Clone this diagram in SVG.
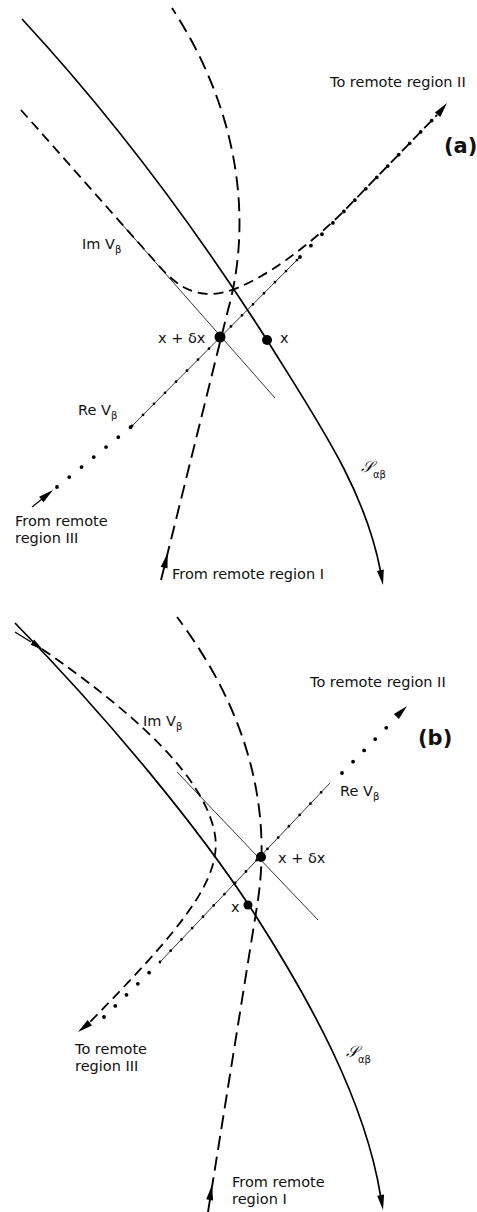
<svg xmlns="http://www.w3.org/2000/svg" width="477" height="1212" viewBox="0 0 477 1212">
<style>
.solid{fill:none;stroke:#000;stroke-width:1.7}
.thin{fill:none;stroke:#000;stroke-width:0.8}
.tail{fill:none;stroke:#000;stroke-width:1.3}
.ldash{fill:none;stroke:#000;stroke-width:1.9;stroke-dasharray:14 7}
.sdash{fill:none;stroke:#000;stroke-width:1.8;stroke-dasharray:10 6}
.bigdot{fill:none;stroke:#000;stroke-width:3.8;stroke-linecap:round;stroke-dasharray:0 15.8}
.smalldot{fill:none;stroke:#000;stroke-width:2.8;stroke-linecap:round;stroke-dasharray:0 15.6}
.ah{fill:#000;stroke:none}
.pt{fill:#000}
text{font-family:"DejaVu Sans","Liberation Sans",sans-serif;font-size:14.5px;fill:#111}
.sub{font-size:10px}
.panel{font-weight:bold;font-size:21px}
.script{font-family:"DejaVu Serif","DejaVu Sans","Liberation Serif",serif;font-style:italic;font-size:16px}
</style>
<rect width="477" height="1212" fill="#fff"/>

<g id="connectors">
  <!-- Panel (a) -->
  <path id="a-S" class="solid" d="M22,19 C120,125 200,235 267,340 C320,425 365,490 380.5,571"/>
  <path id="a-tangent" class="thin" d="M120,222 L275,398"/>
  <path id="a-Im" class="sdash" d="M21,110 L160,267 C180,290 200,298 225,292 C260,283 310,245 345,210 L437,115"/>
  <path id="a-region1" class="ldash" d="M161,580 L228,310 C250,230 245,120 172,8"/>
  <path id="a-Re-tail" class="tail" d="M32,507 L42,499"/>
  <path id="a-Re-low" class="bigdot" d="M57,487 L132,426"/>
  <path id="a-Re-mid" class="thin" d="M132,426 L300,257"/>
  <path id="a-Re-mid-dots" class="smalldot" d="M132,426 L300,257"/>
  <path id="a-Re-up" class="bigdot" d="M300,257 L437,115"/>
  <polygon class="ah" points="383,585 383.8,569.6 377,570.9"/>
  <polygon class="ah" points="167.7,553 167.5,568.4 160.7,566.8"/>
  <polygon class="ah" points="53,490 43.5,502.2 39.1,496.8"/>
  <polygon class="ah" points="447,103 440.3,116.9 434.9,112.5"/>

  <!-- Panel (b) -->
  <path id="b-S" class="solid" d="M15,623 C110,720 200,830 252,910 C310,1000 365,1100 380.6,1196"/>
  <path id="b-tangent" class="thin" d="M177,772 L318,920"/>
  <path id="b-Im-tail" class="tail" d="M15,632 L31,642"/>
  <path id="b-Im" class="sdash" d="M42,649 C130,710 205,775 215,835 C222,880 180,930 90,1022"/>
  <path id="b-region1" class="ldash" d="M208,1212 L258,900 C268,830 262,730 177,617"/>
  <path id="b-Re-low" class="bigdot" d="M104,1017 L160,962"/>
  <path id="b-Re-mid" class="thin" d="M160,962 L330,783"/>
  <path id="b-Re-mid-dots" class="smalldot" d="M160,962 L330,783"/>
  <path id="b-Re-up" class="bigdot" d="M342,773 L390,724"/>
  <polygon class="ah" points="383,1210 384.1,1194.6 377.2,1195.8"/>
  <polygon class="ah" points="212,1185 213.1,1200.4 206.2,1199.2"/>
  <polygon class="ah" points="78,1032 92,1025.4 87.6,1019.9"/>
  <polygon class="ah" points="407,706 398.9,719.1 393.9,714.1"/>
  <polygon class="ah" points="43,650 30.6,644.8 34.2,639.6"/>
</g>

<g id="node-a-xdx">
  <circle class="pt" cx="220" cy="337" r="5.5"/>
  <text x="158" y="343">x + δx</text>
</g>
<g id="node-a-x">
  <circle class="pt" cx="267" cy="340" r="5"/>
  <text x="280" y="343">x</text>
</g>
<g id="labels-a">
  <text x="330" y="87">To remote region II</text>
  <text class="panel" x="444" y="153">(a)</text>
  <text x="82" y="249">Im V<tspan class="sub" dy="4">β</tspan></text>
  <text x="78" y="415">Re V<tspan class="sub" dy="4">β</tspan></text>
  <text x="15" y="526">From remote</text>
  <text x="15" y="543">region III</text>
  <text x="172" y="579">From remote region I</text>
  <text x="361" y="472"><tspan class="script">𝒮</tspan><tspan class="sub" dy="6">αβ</tspan></text>
</g>

<g id="node-b-xdx">
  <circle class="pt" cx="261" cy="857" r="5"/>
  <text x="278" y="863">x + δx</text>
</g>
<g id="node-b-x">
  <circle class="pt" cx="248" cy="905" r="4.5"/>
  <text x="231" y="912">x</text>
</g>
<g id="labels-b">
  <text x="310" y="687">To remote region II</text>
  <text class="panel" x="418" y="745">(b)</text>
  <text x="143" y="726">Im V<tspan class="sub" dy="4">β</tspan></text>
  <text x="340" y="796">Re V<tspan class="sub" dy="4">β</tspan></text>
  <text x="75" y="1054">To remote</text>
  <text x="75" y="1071">region III</text>
  <text x="232" y="1187">From remote</text>
  <text x="232" y="1204">region I</text>
  <text x="346" y="1057"><tspan class="script">𝒮</tspan><tspan class="sub" dy="6">αβ</tspan></text>
</g>
</svg>
